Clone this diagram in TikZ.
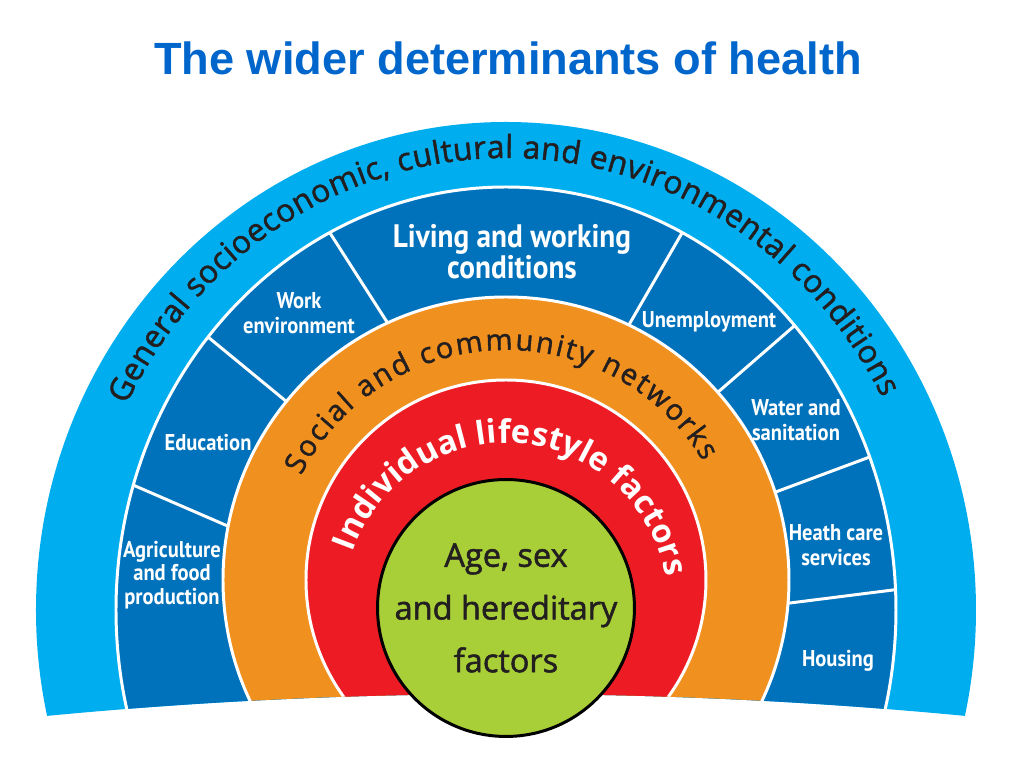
\documentclass[tikz,border=0pt]{standalone}
\usepackage{fontspec}
\setmainfont{Open Sans}
\newfontfamily\titlefont{Liberation Sans}
\newfontfamily\arcfont{Open Sans}[FakeBold=1.5]
\newfontfamily\corefont{Open Sans}[FakeBold=1.6]
\newfontfamily\boxfont{PT Sans}[FakeStretch=0.9]
\usetikzlibrary{decorations.text}
\definecolor{titleblue}{RGB}{0,102,204}
\definecolor{skyblue}{RGB}{0,174,239}
\definecolor{deepblue}{RGB}{0,114,188}
\definecolor{ringorange}{RGB}{240,144,30}
\definecolor{ringred}{RGB}{237,28,36}
\definecolor{coregreen}{RGB}{168,207,56}
\definecolor{inkblack}{RGB}{35,31,32}

\begin{document}
\begin{tikzpicture}
    \tikzstyle{sep}=[draw=white,line width=1.7pt]
    \tikzstyle{seg}=[text=white,align=center,inner sep=0pt,font=\boxfont\bfseries\fontsize{13}{14}\selectfont]
    \tikzstyle{arctext}=[decorate,decoration={text along path,text align={fit to path}}]
    \useasboundingbox (-10.12,-3.76) rectangle (10.36,11.6);
    \node[font=\titlefont\bfseries\fontsize{25.7}{30}\selectfont,text=titleblue] (title) at (0.04,10.43) {The wider determinants of health};
    \begin{scope}
      \clip (-10.5,-2.853) .. controls (-3.5,-2.089) and (3.5,-2.089) .. (10.5,-2.853) -- (10.5,11) -- (-10.5,11) -- cycle;
      \fill[skyblue] (0,-0.6) ellipse [x radius=9.4,y radius=9.76];
      \fill[deepblue] (0,-0.6) ellipse [x radius=7.8,y radius=8.46];
      \begin{scope}
        \clip (0,-0.6) ellipse [x radius=7.8,y radius=8.46];
        \foreach \xa/\ya/\xb/\yb in {-5.52/1.06/-7.46/1.90, -4.38/3.56/-5.96/4.86, -2.38/5.16/-3.52/6.94,
            2.48/5.14/3.52/6.94, 4.22/3.74/5.74/5.06, 5.34/1.74/7.22/2.44, 5.68/-0.46/7.74/-0.20}
          \draw[sep,shorten <=-6pt,shorten >=-8pt] (\xa,\ya) -- (\xb,\yb);
      \end{scope}
      \draw[sep] (0,-0.6) ellipse [x radius=7.8,y radius=8.46];
      \filldraw[fill=ringorange,sep] (0,0) circle (5.66);
      \filldraw[fill=ringred,sep] (0,0) circle (4.0);
    \end{scope}
    \node[circle,fill=coregreen,draw=black,line width=1.7pt,minimum size=4.92cm,inner sep=0pt,align=center,text=inkblack,font=\corefont\fontsize{18.5}{30}\selectfont] (core) at (0,-0.56) {Age, sex\\and hereditary\\factors};
    \path[arctext,decoration={text color=inkblack,text={|\arcfont\fontsize{18}{18}\selectfont|General socioeconomic, cultural and environmental conditions}}]
      (0,-0.6) ++(153:8.52 and 9.04) arc[start angle=153,end angle=28,x radius=8.52,y radius=9.04];
    \path[arctext,decoration={text color=inkblack,text={|\arcfont\fontsize{16.5}{16.5}\selectfont|Social and community networks}}]
      (153:4.6) arc[start angle=153,end angle=31,radius=4.6];
    \path[arctext,decoration={text color=white,text={|\bfseries\fontsize{18.5}{18.5}\selectfont|Individual lifestyle factors}}]
      (0,-0.5) ++(161:3.24) arc[start angle=161,end angle=10,radius=3.24];
    \node[seg,font=\boxfont\bfseries\fontsize{18.5}{17.5}\selectfont] (living) at (0.12,6.56) {Living and working\\conditions};
    \node[seg] (work) at (-4.14,5.34) {Work\\environment};
    \node[seg] (education) at (-5.96,2.74) {Education};
    \node[seg,font=\boxfont\bfseries\fontsize{13}{13.3}\selectfont] (agriculture) at (-6.68,0.10) {Agriculture\\and food\\production};
    \node[seg] (unemployment) at (4.06,5.16) {Unemployment};
    \node[seg] (water) at (5.80,3.20) {Water and\\sanitation};
    \node[seg] (healthcare) at (6.60,0.70) {Heath care\\services};
    \node[seg] (housing) at (6.64,-1.62) {Housing};
\end{tikzpicture}
\end{document}
